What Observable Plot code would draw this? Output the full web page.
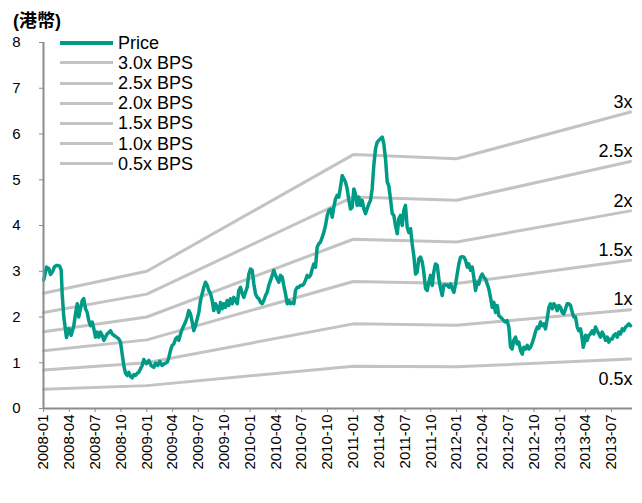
<!DOCTYPE html>
<html>
<head>
<meta charset="utf-8">
<script src="https://cdn.jsdelivr.net/npm/d3@7"></script>
<script src="https://cdn.jsdelivr.net/npm/@observablehq/plot@0.6"></script>
<style>
  body { margin: 0; background: #fff; }
  #wrap { position: relative; width: 642px; height: 503px; font-family: "Liberation Sans", Arial, sans-serif; }
  #title { position: absolute; left: 13px; top: 10px; font-size: 18px; font-weight: bold; line-height: 22px; font-family: "Liberation Sans", "Noto Sans CJK TC", sans-serif; }
  #legend { position: absolute; left: 60px; top: 32.6px; }
  .row { display: flex; align-items: center; height: 20.2px; }
  .sw { width: 53px; margin-right: 5px; }
  .lab { font-size: 18px; line-height: 18px; color: #000; }
</style>
</head>
<body>
<div id="wrap">
  <div id="chart"></div>
  <div id="title">(港幣)</div>
  <div id="legend"></div>
</div>
<script>
// ---- data ----
const unitLabel = "(港幣)";
const xTickMonths = [0,3,6,9,12,15,18,21,24,27,30,33,36,39,42,45,48,51,54,57,60,63,66];
const xTickLabels = ["2008-01","2008-04","2008-07","2008-10","2009-01","2009-04","2009-07","2009-10",
  "2010-01","2010-04","2010-07","2010-10","2011-01","2011-04","2011-07","2011-10",
  "2012-01","2012-04","2012-07","2012-10","2013-01","2013-04","2013-07"];
const yTicks = [0,1,2,3,4,5,6,7,8];

// book value per share (BPS) path, months since 2008-01
const bpsMonths = [0, 12, 36, 48, 68.21];
const bpsValues = [0.84, 1.0, 1.85, 1.82, 2.16];
const multiples = [3.0, 2.5, 2.0, 1.5, 1.0, 0.5];
const legendNames = ["3.0x BPS","2.5x BPS","2.0x BPS","1.5x BPS","1.0x BPS","0.5x BPS"];
const endLabels = ["3x","2.5x","2x","1.5x","1x","0.5x"];

// share price, months since 2008-01
const priceMonths = [0.03,0.35,0.62,0.81,1.08,1.28,1.59,1.89,2.06,2.17,2.36,2.67,2.94,3.22,3.52,3.72,3.92,4.10,4.30,4.50,
4.68,4.88,5.08,5.26,5.46,5.66,5.84,6.04,6.24,6.43,6.62,6.82,7.01,7.20,7.40,7.79,7.98,8.17,8.48,8.75,
8.95,9.14,9.33,9.53,9.73,9.91,10.11,10.31,10.49,10.69,10.89,11.07,11.27,11.47,11.65,11.97,12.24,12.51,12.82,13.01,
13.28,13.51,13.79,14.06,14.37,14.56,14.76,14.95,15.14,15.34,15.54,15.72,15.92,16.12,16.30,16.50,16.70,16.88,17.08,17.28,
17.46,17.66,17.86,18.05,18.24,18.44,18.63,18.82,19.02,19.21,19.41,19.60,19.79,19.99,20.18,20.37,20.57,20.77,20.95,21.15,
21.35,21.53,21.73,21.93,22.11,22.31,22.51,22.69,22.89,23.09,23.27,23.47,23.67,23.86,24.05,24.25,24.44,24.63,24.83,25.02,
25.22,25.41,25.60,25.80,25.99,26.18,26.38,26.58,26.76,26.96,27.16,27.34,27.54,27.74,27.92,28.12,28.32,28.50,28.70,28.90,
29.09,29.28,29.48,29.67,29.86,30.06,30.25,30.44,30.64,30.83,31.03,31.22,31.41,31.61,31.80,31.99,32.19,32.38,32.57,32.77,
32.97,33.15,33.35,33.55,33.73,33.93,34.13,34.31,34.51,34.71,34.90,35.09,35.29,35.48,35.67,35.87,36.06,36.25,36.45,36.64,
36.84,37.03,37.22,37.42,37.61,37.80,38.00,38.19,38.38,38.58,38.78,38.96,39.16,39.36,39.54,39.74,39.94,40.12,40.32,40.52,
40.71,40.90,41.10,41.29,41.48,41.68,41.87,42.06,42.26,42.45,42.65,42.84,43.03,43.23,43.42,43.61,43.81,44.01,44.19,44.39,
44.59,44.77,44.97,45.17,45.35,45.55,45.75,45.94,46.13,46.33,46.52,46.71,46.91,47.10,47.30,47.49,47.68,47.88,48.07,48.26,
48.46,48.66,48.84,49.04,49.24,49.42,49.62,49.82,50.00,50.20,50.40,50.58,50.78,50.98,51.16,51.36,51.56,51.74,51.94,52.14,
52.33,52.52,52.72,52.91,53.10,53.30,53.49,53.69,53.88,54.07,54.27,54.46,54.65,54.85,55.04,55.23,55.43,55.63,55.81,56.01,
56.21,56.39,56.59,56.79,56.97,57.17,57.37,57.55,57.75,57.95,58.14,58.33,58.53,58.72,58.91,59.11,59.30,59.49,59.69,59.88,
60.08,60.27,60.46,60.66,60.85,61.04,61.24,61.44,61.62,61.82,62.02,62.20,62.40,62.60,62.71,62.87,62.98,63.18,63.37,63.56,
63.76,63.95,64.14,64.34,64.53,64.72,64.92,65.11,65.31,65.50,65.69,65.89,66.08,66.27,66.47,66.67,66.85,67.05,67.25,67.43,
67.63,67.83,68.01,68.21];
const priceValues = [2.81,3.09,3.06,2.93,3.00,3.10,3.13,3.11,3.02,2.51,2.00,1.55,1.75,1.60,1.81,2.07,2.29,2.00,2.18,2.36,
2.40,2.18,2.10,1.92,1.81,1.89,1.75,1.56,1.67,1.56,1.67,1.60,1.49,1.56,1.63,1.70,1.63,1.60,1.56,1.52,
1.45,1.19,0.94,0.77,0.72,0.79,0.70,0.67,0.74,0.72,0.77,0.79,0.87,0.94,1.07,0.98,1.05,0.94,0.90,0.99,
0.94,1.03,0.94,0.98,1.01,1.11,1.27,1.38,1.41,1.52,1.56,1.49,1.63,1.74,1.81,1.89,2.00,2.14,2.07,1.89,
1.70,1.81,1.96,2.10,2.36,2.51,2.65,2.76,2.69,2.58,2.51,2.36,2.14,2.29,2.21,2.10,2.32,2.18,2.29,2.21,
2.36,2.25,2.40,2.29,2.43,2.36,2.29,2.58,2.65,2.51,2.43,2.54,2.65,2.94,3.05,3.02,2.72,2.51,2.43,2.40,
2.32,2.29,2.36,2.47,2.54,2.69,2.80,2.91,3.02,2.91,2.83,2.76,2.91,2.87,2.69,2.51,2.29,2.36,2.29,2.32,
2.29,2.58,2.65,2.65,2.69,2.69,2.72,2.80,2.91,2.87,2.91,3.05,3.16,3.09,3.53,3.60,3.64,3.74,3.85,4.00,
4.22,4.33,4.36,4.18,4.40,4.58,4.66,4.62,4.84,5.09,5.02,4.95,4.80,4.56,4.36,4.40,4.80,4.69,4.44,4.62,
4.44,4.55,4.37,4.26,4.37,4.47,4.55,4.80,5.31,5.68,5.82,5.86,5.90,5.93,5.79,5.46,4.95,4.87,4.58,4.26,
4.22,4.00,3.82,4.15,4.22,4.00,4.33,4.44,3.96,3.85,3.93,3.60,3.34,2.94,2.98,3.27,3.31,3.20,2.98,2.62,
2.58,2.76,2.91,2.69,2.98,3.16,3.13,2.83,2.63,2.47,2.70,2.70,2.70,2.65,2.72,2.62,2.54,2.72,2.94,3.16,
3.31,3.32,3.31,3.24,3.09,3.16,3.02,3.09,2.87,2.58,2.76,2.72,2.87,2.94,2.87,2.83,2.72,2.62,2.43,2.21,
2.32,2.10,2.25,2.03,2.00,1.96,1.92,1.89,1.92,1.78,1.34,1.30,1.49,1.56,1.41,1.45,1.27,1.19,1.34,1.30,
1.38,1.30,1.34,1.43,1.54,1.68,1.78,1.75,1.89,1.81,1.85,1.74,1.96,2.21,2.29,2.18,2.29,2.25,2.14,2.25,
2.21,2.10,2.07,2.18,2.29,2.29,2.25,2.10,2.00,2.00,1.78,1.70,1.74,1.52,1.34,1.45,1.60,1.49,1.60,1.63,
1.70,1.63,1.78,1.70,1.63,1.56,1.67,1.60,1.49,1.56,1.45,1.52,1.52,1.60,1.63,1.56,1.67,1.63,1.74,1.70,
1.78,1.81,1.85,1.81];

// ---- build tables ----
const priceColor = "#009b86";
const bandColor = "#c3c3c3";
const axisColor = "#8c8c8c";

const priceRows = priceMonths.map((m, i) => ({m, v: priceValues[i]}));
const bandRows = multiples.flatMap((k, j) => bpsMonths.map((m, i) => ({m, v: k * bpsValues[i], k: legendNames[j]})));
const lastIdx = bpsMonths.length - 1;
const labelRows = multiples.map((k, j) => ({m: bpsMonths[lastIdx], v: k * bpsValues[lastIdx], k, label: endLabels[j]}));

const chart = Plot.plot({
  width: 642,
  height: 503,
  marginLeft: 43,
  marginRight: 10,
  marginTop: 42,
  marginBottom: 95,
  style: {fontFamily: "'Liberation Sans', Arial, sans-serif", background: "white", overflow: "visible", color: "#000"},
  x: {domain: [0, 68.44], axis: null},
  y: {domain: [0, 8], axis: null},
  marks: [
    Plot.line(bandRows, {x: "m", y: "v", z: "k", stroke: bandColor, strokeWidth: 3}),
    Plot.line(priceRows, {x: "m", y: "v", stroke: priceColor, strokeWidth: 3.5, strokeLinejoin: "round"}),
    Plot.text(labelRows.filter(d => d.k !== 0.5), {x: "m", y: "v", text: "label", textAnchor: "end", dx: 2, dy: -10, fontSize: 18, fill: "#000"}),
    Plot.text(labelRows.filter(d => d.k === 0.5), {x: "m", y: "v", text: "label", textAnchor: "end", dx: 2, dy: 20, fontSize: 18, fill: "#000"}),
    Plot.ruleX([0], {stroke: axisColor, strokeWidth: 2}),
    Plot.ruleY([0], {stroke: axisColor, strokeWidth: 2}),
    Plot.axisY(yTicks, {label: null, tickSize: 4, tickPadding: 19, fontSize: 15, stroke: axisColor, fill: "#000"}),
    Plot.axisX(xTickMonths, {label: null, tickRotate: -90, tickSize: 4, tickPadding: 2, fontSize: 15, stroke: axisColor, fill: "#000",
      tickFormat: d => xTickLabels[xTickMonths.indexOf(d)]})
  ]
});
document.getElementById("chart").appendChild(chart);
document.getElementById("title").textContent = unitLabel;

// legend
const legend = document.getElementById("legend");
const entries = [{name: "Price", color: priceColor, w: 4}].concat(legendNames.map(n => ({name: n, color: bandColor, w: 3})));
for (const e of entries) {
  const row = document.createElement("div");
  row.className = "row";
  const sw = document.createElement("div");
  sw.className = "sw";
  sw.style.height = e.w + "px";
  sw.style.background = e.color;
  const lab = document.createElement("span");
  lab.className = "lab";
  lab.textContent = e.name;
  row.appendChild(sw);
  row.appendChild(lab);
  legend.appendChild(row);
}
</script>
</body>
</html>
